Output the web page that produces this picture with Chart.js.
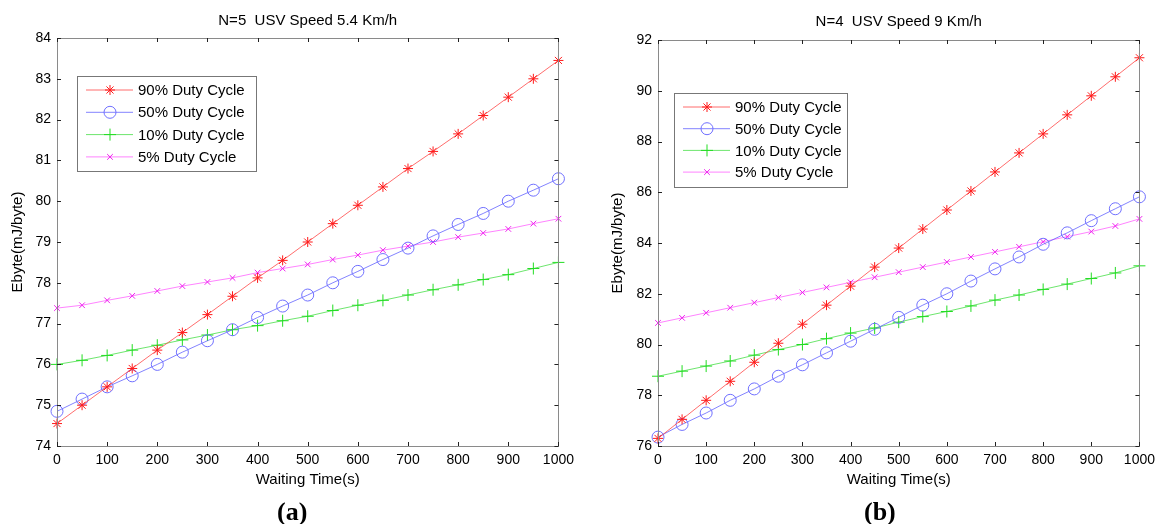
<!DOCTYPE html>
<html>
<head>
<meta charset="utf-8">
<script src="https://cdn.jsdelivr.net/npm/chart.js@4.4.1/dist/chart.umd.min.js"></script>
<style>
  body { margin: 0; background: #fff; width: 1161px; height: 524px; position: relative; overflow: hidden; }
  .panel { position: absolute; top: 0; height: 500px; }
  .cap { position: absolute; top: 497px; font: bold 26px "Liberation Serif", "DejaVu Serif", serif; color: #000; line-height: 30px; }
</style>
</head>
<body>
<div class="panel" style="left:0;width:580px"><canvas id="chartA"></canvas></div>
<div class="panel" style="left:600px;width:561px"><canvas id="chartB"></canvas></div>
<div class="cap" style="left:277px">(a)</div>
<div class="cap" style="left:864px">(b)</div>
<script>
// waiting time (s), shared by both panels
const waitTimes = [0, 50, 100, 150, 200, 250, 300, 350, 400, 450, 500, 550, 600, 650, 700, 750, 800, 850, 900, 950, 1000];

const seriesNames = ['90% Duty Cycle', '50% Duty Cycle', '10% Duty Cycle', '5% Duty Cycle'];

// (a) N=5, USV speed 5.4 km/h
const a90 = [74.55, 75.0, 75.45, 75.9, 76.35, 76.78, 77.22, 77.67, 78.12, 78.55, 79.0, 79.45, 79.9, 80.35, 80.8, 81.22, 81.65, 82.1, 82.55, 83.0, 83.45];
const a50 = [74.85, 75.15, 75.45, 75.72, 76.0, 76.3, 76.58, 76.85, 77.15, 77.43, 77.7, 78.0, 78.28, 78.57, 78.85, 79.15, 79.43, 79.7, 80.0, 80.27, 80.55];
const a10 = [76.0, 76.1, 76.22, 76.35, 76.47, 76.6, 76.72, 76.85, 76.95, 77.07, 77.18, 77.32, 77.45, 77.57, 77.7, 77.83, 77.95, 78.08, 78.2, 78.35, 78.5];
const a05 = [77.38, 77.45, 77.57, 77.68, 77.8, 77.92, 78.02, 78.12, 78.25, 78.35, 78.45, 78.57, 78.68, 78.8, 78.9, 79.0, 79.12, 79.22, 79.32, 79.45, 79.57];

// (b) N=4, USV speed 9 km/h
const b90 = [76.3, 77.05, 77.8, 78.55, 79.3, 80.05, 80.8, 81.55, 82.3, 83.05, 83.8, 84.55, 85.3, 86.05, 86.8, 87.55, 88.3, 89.05, 89.8, 90.55, 91.3];
const b50 = [76.35, 76.85, 77.3, 77.8, 78.25, 78.75, 79.2, 79.67, 80.13, 80.6, 81.07, 81.55, 82.0, 82.5, 82.98, 83.45, 83.95, 84.4, 84.88, 85.35, 85.82];
const b10 = [78.75, 78.95, 79.15, 79.35, 79.58, 79.8, 80.0, 80.23, 80.45, 80.65, 80.88, 81.1, 81.3, 81.52, 81.75, 81.95, 82.17, 82.38, 82.6, 82.82, 83.1];
const b05 = [80.85, 81.05, 81.25, 81.45, 81.65, 81.85, 82.05, 82.25, 82.45, 82.65, 82.85, 83.05, 83.25, 83.45, 83.65, 83.85, 84.05, 84.25, 84.45, 84.67, 84.95];

const FONT = '"Liberation Sans", Arial, sans-serif';

// line / marker style per series (matlab r-*, b-o, g-+, m-x)
const styles = [
  { line: 'rgba(255,60,60,0.75)', mark: '#ff1a1a', pointStyle: 'star', r: 5 },
  { line: 'rgba(90,90,255,0.75)', mark: '#7070ff', pointStyle: 'circle', r: 6 },
  { line: 'rgba(60,220,60,0.75)', mark: '#22dd22', pointStyle: 'cross', r: 6 },
  { line: 'rgba(255,90,255,0.75)', mark: '#ee22ee', pointStyle: 'crossRot', r: 4 }
];

function toPoints(vals) {
  return vals.map((v, i) => ({ x: waitTimes[i], y: v }));
}

// box + inward ticks on all four sides, and the title above
const matlabFrame = {
  id: 'matlabFrame',
  afterDraw(chart, args, opts) {
    const { ctx, chartArea: ca } = chart;
    const xs = chart.scales.x, ys = chart.scales.y;
    ctx.save();
    ctx.strokeStyle = '#8a8a8a';
    ctx.lineWidth = 1;
    ctx.strokeRect(Math.round(ca.left) + 0.5, Math.round(ca.top) + 0.5, Math.round(ca.right - ca.left), Math.round(ca.bottom - ca.top));
    ctx.strokeStyle = '#222';
    ctx.beginPath();
    xs.ticks.forEach(t => {
      const px = Math.round(xs.getPixelForValue(t.value)) + 0.5;
      ctx.moveTo(px, ca.bottom); ctx.lineTo(px, ca.bottom - 4);
      ctx.moveTo(px, ca.top); ctx.lineTo(px, ca.top + 4);
    });
    ys.ticks.forEach(t => {
      const py = Math.round(ys.getPixelForValue(t.value)) + 0.5;
      ctx.moveTo(ca.left, py); ctx.lineTo(ca.left + 4, py);
      ctx.moveTo(ca.right, py); ctx.lineTo(ca.right - 4, py);
    });
    ctx.stroke();
    ctx.fillStyle = '#000';
    ctx.font = '15px ' + FONT;
    ctx.textAlign = 'center';
    ctx.textBaseline = 'middle';
    ctx.fillText(opts.title, (ca.left + ca.right) / 2, ca.top - opts.titleGap);
    ctx.restore();
  }
};

// legend box drawn inside the plot area, like matlab's default
const insideLegend = {
  id: 'insideLegend',
  afterDraw(chart, args, opts) {
    const { ctx, chartArea: ca } = chart;
    const x0 = ca.left + opts.dx, y0 = ca.top + opts.dy;
    ctx.save();
    ctx.fillStyle = '#fff';
    ctx.fillRect(x0, y0, opts.w, opts.h);
    ctx.strokeStyle = '#777';
    ctx.lineWidth = 1;
    ctx.strokeRect(x0 + 0.5, y0 + 0.5, opts.w, opts.h);
    chart.data.datasets.forEach((ds, i) => {
      const cy = y0 + opts.firstRow + i * opts.rowGap;
      ctx.strokeStyle = ds.borderColor;
      ctx.lineWidth = 1;
      ctx.beginPath();
      ctx.moveTo(x0 + 9, cy); ctx.lineTo(x0 + 56, cy);
      ctx.stroke();
      ctx.strokeStyle = ds.pointBorderColor;
      ctx.fillStyle = 'rgba(0,0,0,0)';
      Chart.helpers.drawPoint(ctx, {
        pointStyle: ds.pointStyle, radius: ds.pointRadius, rotation: 0, borderWidth: 1
      }, x0 + 33, cy);
      ctx.fillStyle = '#000';
      ctx.font = '15px ' + FONT;
      ctx.textAlign = 'left';
      ctx.textBaseline = 'middle';
      ctx.fillText(ds.label, x0 + 61, cy + 1);
    });
    ctx.restore();
  }
};

function makeChart(canvasId, seriesVals, cfg) {
  const datasets = seriesVals.map((vals, i) => ({
    label: seriesNames[i],
    data: toPoints(vals),
    borderColor: styles[i].line,
    borderWidth: 1,
    pointStyle: styles[i].pointStyle,
    pointRadius: styles[i].r,
    pointBorderColor: styles[i].mark,
    pointBackgroundColor: 'rgba(0,0,0,0)',
    pointBorderWidth: 1,
    tension: 0,
    clip: false
  }));

  return new Chart(document.getElementById(canvasId), {
    type: 'line',
    data: { datasets: datasets },
    plugins: [matlabFrame, insideLegend],
    options: {
      responsive: true,
      maintainAspectRatio: false,
      animation: false,
      layout: { padding: { top: cfg.top, right: cfg.right, bottom: 11, left: 0 } },
      plugins: {
        legend: { display: false },
        tooltip: { enabled: false },
        matlabFrame: { title: cfg.title, titleGap: cfg.titleGap },
        insideLegend: cfg.legend
      },
      scales: {
        x: {
          type: 'linear',
          min: 0, max: 1000,
          grid: { display: false, drawTicks: false },
          border: { display: false },
          ticks: {
            stepSize: 100, padding: 6, color: '#000', font: { family: FONT, size: 14 }, maxRotation: 0,
            callback: v => String(v)
          },
          title: { display: true, text: 'Waiting Time(s)', color: '#000', font: { family: FONT, size: 15 }, padding: 0 },
          afterFit(scale) { scale.height = 43; }
        },
        y: {
          min: cfg.yMin, max: cfg.yMax,
          grid: { display: false, drawTicks: false },
          border: { display: false },
          ticks: { stepSize: cfg.yStep, padding: 6, color: '#000', font: { family: FONT, size: 14 } },
          title: { display: true, text: 'Ebyte(mJ/byte)', color: '#000', font: { family: FONT, size: 15 }, padding: { top: 9, bottom: 0 } },
          afterFit(scale) { scale.width = cfg.yWidth; }
        }
      }
    }
  });
}

makeChart('chartA', [a90, a50, a10, a05], {
  title: 'N=5  USV Speed 5.4 Km/h', titleGap: 17,
  top: 38, right: 17, yWidth: 57,
  yMin: 74, yMax: 84, yStep: 1,
  legend: { dx: 20, dy: 38, w: 179, h: 95, firstRow: 14, rowGap: 22.3 }
});

makeChart('chartB', [b90, b50, b10, b05], {
  title: 'N=4  USV Speed 9 Km/h', titleGap: 18,
  top: 40, right: 17, yWidth: 58,
  yMin: 76, yMax: 92, yStep: 2,
  legend: { dx: 16, dy: 53, w: 173, h: 94, firstRow: 14, rowGap: 21.7 }
});
</script>
</body>
</html>
